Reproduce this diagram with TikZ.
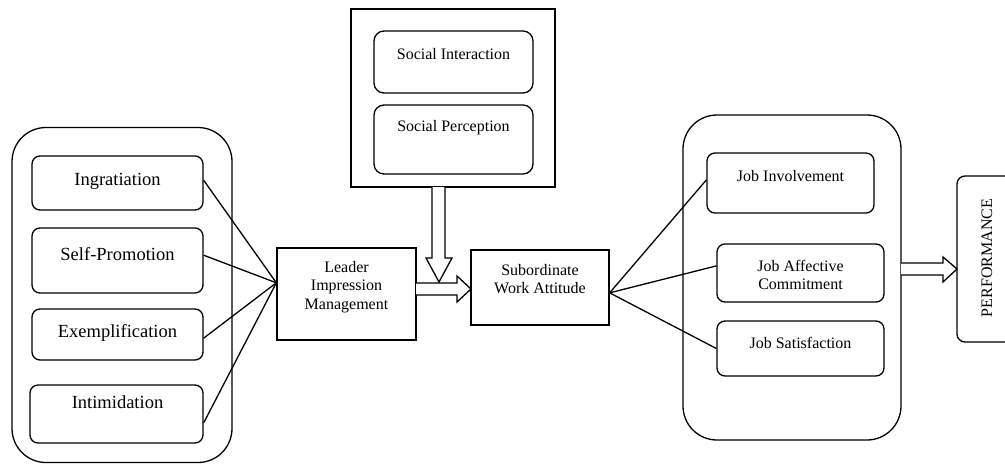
\documentclass[tikz,border=0pt]{standalone}
\usepackage{fontspec}
\setmainfont{Liberation Serif}
\usetikzlibrary{calc}
\begin{document}
\begin{tikzpicture}[x=1pt,y=-1pt,line width=1.3pt,
  rbox/.style={draw,rounded corners=8pt,inner sep=0pt},
  obox/.style={draw,rounded corners=34pt,inner sep=0pt},
  sbox/.style={draw,inner sep=0pt},
  bigtxt/.style={font=\fontsize{18.5}{21}\selectfont,inner sep=0pt},
  smtxt/.style={font=\fontsize{16}{18.5}\selectfont,align=center,inner sep=0pt},
  conn/.style={draw,line width=1.3pt},
  hollow/.style={draw,line width=1.3pt,line join=miter,fill=white}]
\useasboundingbox (0,0) rectangle (1005,464);

% left group
\node[obox,minimum width=220pt,minimum height=335pt] (lgrp) at (122,295) {};
\node[rbox,minimum width=171pt,minimum height=54pt] (ing) at (117.5,183) {};
\node[bigtxt] at (117.5,181) {Ingratiation};
\node[rbox,minimum width=171pt,minimum height=65pt] (selfp) at (117.5,260.5) {};
\node[bigtxt] at (117.5,254) {Self-Promotion};
\node[rbox,minimum width=171pt,minimum height=51pt] (exem) at (117.5,334.5) {};
\node[bigtxt] at (117.5,333) {Exemplification};
\node[rbox,minimum width=173pt,minimum height=58pt] (intim) at (116.5,414) {};
\node[bigtxt] at (117.5,402) {Intimidation};

% leader
\node[sbox,minimum width=139pt,minimum height=92pt] (lead) at (346.5,294) {};
\node[smtxt] at (346.5,287) {Leader\\Impression\\Management};
\coordinate (lin) at ($(lead.north west)!0.38!(lead.south west)$);

% social
\node[sbox,minimum width=204pt,minimum height=178pt] (soc) at (453,98) {};
\node[rbox,rounded corners=10pt,minimum width=159pt,minimum height=62pt] (sint) at (453.5,62) {};
\node[smtxt] at (453.5,54) {Social Interaction};
\node[rbox,rounded corners=10pt,minimum width=159pt,minimum height=69pt] (sper) at (453.5,139.5) {};
\node[smtxt] at (453.5,128) {Social Perception};

% subordinate
\node[sbox,minimum width=138pt,minimum height=75pt] (sub) at (540,287.5) {};
\node[smtxt] at (540,279) {Subordinate\\Work Attitude};
\coordinate (sout) at ($(sub.north east)!0.57!(sub.south east)$);

% right group
\node[obox,minimum width=218pt,minimum height=325pt] (rgrp) at (792,277.5) {};
\node[rbox,minimum width=167pt,minimum height=60pt] (jinv) at (790.5,183) {};
\node[smtxt] at (790.5,176) {Job Involvement};
\node[rbox,minimum width=167pt,minimum height=58pt] (jaff) at (800.5,273) {};
\node[smtxt] at (800.5,275) {Job Affective\\Commitment};
\node[rbox,minimum width=167pt,minimum height=55pt] (jsat) at (800.5,348.5) {};
\node[smtxt] at (800.5,343) {Job Satisfaction};

% performance
\node[rbox,minimum width=60pt,minimum height=166pt] (perf) at (987,259) {};
\node[smtxt,rotate=90] at (987,258) {PERFORMANCE};

% connectors
\draw[conn] ($(ing.north east)!0.45!(ing.south east)$) -- (lin);
\draw[conn] ($(selfp.north east)!0.42!(selfp.south east)$) -- (lin);
\draw[conn] ($(exem.north east)!0.57!(exem.south east)$) -- (lin);
\draw[conn] ($(intim.north east)!0.65!(intim.south east)$) -- (lin);

\draw[conn] (sout) -- ($(jinv.north west)!0.45!(jinv.south west)$);
\draw[conn] (sout) -- ($(jaff.north west)!0.38!(jaff.south west)$);
\draw[conn] (sout) -- (jsat.west);

% hollow arrows
\draw[hollow] (416,283) -- (457,283) -- (457,276) -- (471,289) -- (457,302) -- (457,295) -- (416,295);
\draw[hollow] (432,187) -- (432,258) -- (426,258) -- (439,282) -- (452,258) -- (445,258) -- (445,187);
\draw[hollow] (901,263) -- (943,263) -- (943,257) -- (957,269) -- (943,282) -- (943,275) -- (901,275);
\end{tikzpicture}
\end{document}
